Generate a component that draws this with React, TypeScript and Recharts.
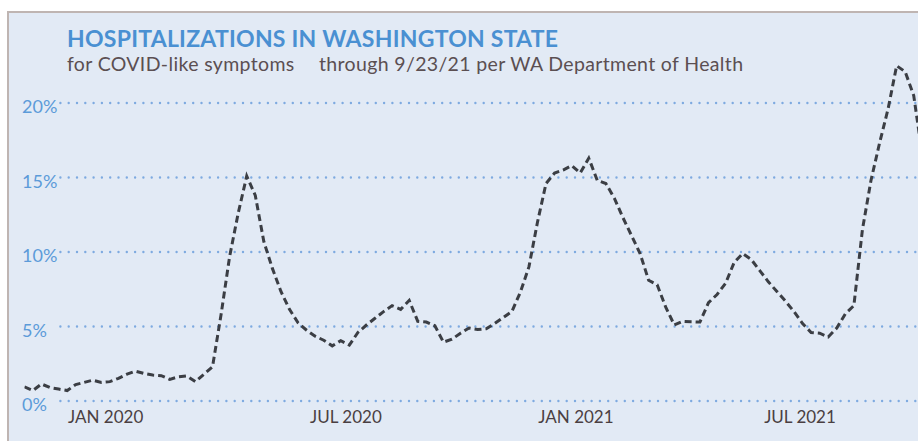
import { LineChart, Line, XAxis, YAxis, CartesianGrid } from "recharts";

// weekly share of ED visits for COVID-like illness, %
const hospitalPct = [
  0.95, 0.7, 1.14, 0.9, 0.8, 0.7, 1.1, 1.25, 1.4, 1.25,
  1.3, 1.52, 1.8, 2.0, 1.85, 1.74, 1.7, 1.45, 1.62, 1.68,
  1.3, 1.8, 2.3, 5.8, 9.7, 12.6, 15.1, 13.8, 10.7, 8.9,
  7.35, 6.15, 5.25, 4.75, 4.35, 4.08, 3.7, 4.05, 3.75, 4.6,
  5.1, 5.55, 6.0, 6.4, 6.15, 6.75, 5.35, 5.3, 5.05, 3.95,
  4.15, 4.55, 4.9, 4.8, 4.85, 5.2, 5.6, 6.0, 7.3, 9.0,
  12.0, 14.6, 15.3, 15.5, 15.8, 15.3, 16.3, 14.8, 14.6, 13.6,
  12.3, 11.1, 9.9, 8.1, 7.8, 6.3, 5.1, 5.35, 5.32, 5.3,
  6.6, 7.15, 7.9, 9.3, 9.9, 9.5, 8.75, 8.0, 7.35, 6.7,
  6.0, 5.2, 4.6, 4.55, 4.3, 4.9, 5.85, 6.4, 11.5, 14.8,
  17.3, 19.6, 22.5, 22.1, 20.5, 16.5,
];

const yTicks = [0, 5, 10, 15, 20];
const monthTicks = [9.5, 37.6, 64.5, 90.7];
const monthLabels = ["JAN 2020", "JUL 2020", "JAN 2021", "JUL 2021"];

const data = hospitalPct.map((pct, week) => ({ week, pct }));

const BLUE = "#4a90d2";
const GRID = "#7eaae0";
const FONT = "Lato, 'Open Sans', sans-serif";

function YTick(props: any) {
  const { y, payload } = props;
  return (
    <text x={22} y={y + 10} fill="#5c9bd9" fontSize={18} fontFamily={FONT} textAnchor="start">
      {payload.value}%
    </text>
  );
}

function XTick(props: any) {
  const { x, payload } = props;
  const idx = monthTicks.indexOf(payload.value);
  return (
    <text x={x} y={423} fill="#4a3f42" fontSize={17} fontFamily={FONT} textAnchor="middle">
      {monthLabels[idx]}
    </text>
  );
}

function GridLine(props: any) {
  // only the labelled ticks get a dotted rule
  if (props.y1 < 60) return <g key={props.key} />;
  return (
    <line
      key={props.key}
      x1={props.x1 + 36}
      x2={props.x2}
      y1={props.y1}
      y2={props.y2}
      stroke={GRID}
      strokeWidth={2.4}
      strokeDasharray="0 8.3"
      strokeLinecap="round"
    />
  );
}

export default function App() {
  return (
    <div
      style={{
        position: "absolute",
        left: 0,
        top: 0,
        width: 918,
        height: 441,
        overflow: "hidden",
        background: "#fff",
      }}
    >
      <div
        style={{
          position: "absolute",
          left: 7,
          top: 11,
          right: -10,
          bottom: -10,
          background: "#e2eaf5",
          borderTop: "2px solid #bfb5b2",
          borderLeft: "2px solid #bfb5b2",
        }}
      />
      <LineChart
        width={918}
        height={441}
        data={data}
        margin={{ top: 28.5, right: 0, bottom: 0, left: 0 }}
        style={{ position: "absolute", left: 0, top: 0 }}
      >
        <CartesianGrid vertical={false} horizontal={GridLine} />
        <XAxis
          dataKey="week"
          type="number"
          domain={[0, 104.5]}
          allowDataOverflow
          ticks={monthTicks}
          axisLine={false}
          tickLine={false}
          height={40}
          tick={XTick}
          interval={0}
        />
        <YAxis
          width={24.4}
          domain={[0, 25]}
          ticks={yTicks}
          axisLine={false}
          tickLine={false}
          tick={YTick}
          interval={0}
        />
        <Line
          type="linear"
          dataKey="pct"
          stroke="#3b3e44"
          strokeWidth={3}
          strokeDasharray="7 4"
          dot={false}
          isAnimationActive={false}
        />
      </LineChart>
      <svg
        width={918}
        height={441}
        style={{ position: "absolute", left: 0, top: 0, pointerEvents: "none" }}
      >
        <text x={67} y={47.3} fill={BLUE} fontSize={23} fontWeight={700} letterSpacing={0.25} fontFamily={FONT}>
          HOSPITALIZATIONS IN WASHINGTON STATE
        </text>
        <text x={67} y={71} fill="#5b4f52" fontSize={19.5} letterSpacing={0.35} fontFamily={FONT}>
          for COVID-like symptoms
        </text>
        <text x={319} y={71} fill="#5b4f52" fontSize={19.5} letterSpacing={0.35} fontFamily={FONT}>
          through 9/23/21 per WA Department of Health
        </text>
      </svg>
    </div>
  );
}
